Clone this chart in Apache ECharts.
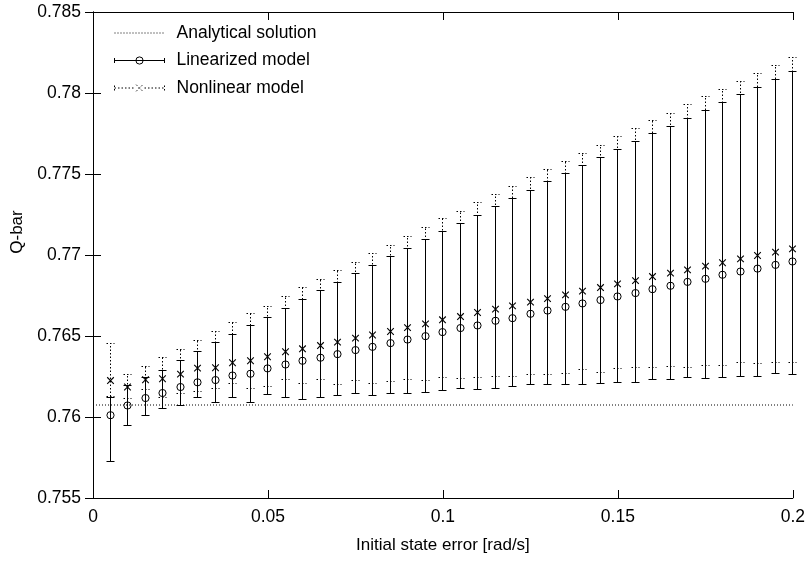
<!DOCTYPE html>
<html>
<head>
<meta charset="utf-8">
<script src="https://cdn.jsdelivr.net/npm/echarts@6/dist/echarts.min.js"></script>
<style>
html,body{margin:0;padding:0;background:#fff;}
#chart{width:808px;height:561px;}
</style>
</head>
<body>
<div id="chart"></div>
<script>
// ---- data ----
const xVals = [0.005,0.01,0.015,0.02,0.025,0.03,0.035,0.04,0.045,0.05,
  0.055,0.06,0.065,0.07,0.075,0.08,0.085,0.09,0.095,0.1,
  0.105,0.11,0.115,0.12,0.125,0.13,0.135,0.14,0.145,0.15,
  0.155,0.16,0.165,0.17,0.175,0.18,0.185,0.19,0.195,0.2];
const linLow = [0.75726,0.75946,0.76008,0.76053,0.76074,0.76119,0.76088,0.76123,0.7609,0.76137,
  0.76121,0.76111,0.76119,0.76131,0.76145,0.76133,0.76148,0.76145,0.76154,0.76166,
  0.76176,0.76168,0.76176,0.76187,0.76199,0.76203,0.76203,0.76199,0.76207,0.76213,
  0.76216,0.76232,0.76232,0.76246,0.7624,0.76242,0.76253,0.7625,0.76271,0.76261];
const linMean = [0.76011,0.76071,0.76117,0.76148,0.76185,0.76214,0.76228,0.76256,0.76267,0.763,
  0.76324,0.76347,0.76366,0.76388,0.76413,0.76433,0.76456,0.76478,0.76499,0.76524,
  0.76549,0.76565,0.76594,0.7661,0.76637,0.76657,0.7668,0.76701,0.76722,0.76744,
  0.76765,0.76789,0.7681,0.76834,0.76853,0.76878,0.76898,0.76916,0.76939,0.7696];
const linHigh = [0.76121,0.76193,0.76244,0.76287,0.76349,0.76404,0.76458,0.76507,0.76565,0.76617,
  0.7667,0.76728,0.76781,0.7683,0.76884,0.76935,0.76989,0.7704,0.77093,0.77145,
  0.77196,0.77246,0.77297,0.77348,0.774,0.77451,0.77501,0.7755,0.77599,0.77649,
  0.77698,0.77747,0.77792,0.77844,0.77894,0.7794,0.77988,0.78036,0.78085,0.78132];
const nonLow = [0.76127,0.76117,0.76168,0.7612,0.76148,0.76158,0.76179,0.76209,0.76179,0.76189,
  0.7623,0.76205,0.7623,0.76203,0.76228,0.76209,0.76219,0.76234,0.76228,0.76246,
  0.76238,0.76242,0.76253,0.76253,0.76261,0.76263,0.76271,0.76292,0.76277,0.76298,
  0.76306,0.76308,0.7631,0.76304,0.76316,0.76318,0.76335,0.76329,0.76335,0.76337];
const nonMean = [0.76225,0.76185,0.7623,0.76236,0.76265,0.76302,0.76304,0.76335,0.76347,0.76372,
  0.76403,0.76421,0.76441,0.76462,0.76487,0.76506,0.76528,0.76552,0.76575,0.766,
  0.7662,0.76645,0.76666,0.76686,0.76709,0.76731,0.76754,0.76777,0.76799,0.76822,
  0.76842,0.76867,0.76888,0.76908,0.76931,0.76952,0.76976,0.76997,0.77018,0.77038];
const nonHigh = [0.76456,0.76261,0.76312,0.76367,0.76417,0.76475,0.7653,0.76581,0.76637,0.76684,
  0.76746,0.76797,0.76849,0.76904,0.76956,0.77009,0.77061,0.77114,0.77168,0.77223,
  0.7727,0.77322,0.77373,0.77425,0.77476,0.77527,0.77577,0.77626,0.77678,0.77731,
  0.7778,0.77828,0.77875,0.77926,0.77976,0.78023,0.78074,0.78122,0.78171,0.78218];
const analyticalValue = 0.76074;
const xTicks = [0, 0.05, 0.1, 0.15, 0.2];
const yTicks = [0.755, 0.76, 0.765, 0.77, 0.775, 0.78, 0.785];
const seriesNames = ['Analytical solution', 'Linearized model', 'Nonlinear model'];

// ---- build ----
const linData = xVals.map((x, i) => [x, linLow[i], linMean[i], linHigh[i]]);
const nonData = xVals.map((x, i) => [x, nonLow[i], nonMean[i], nonHigh[i]]);
const anaData = [[xTicks[0], analyticalValue], [xTicks[xTicks.length - 1], analyticalValue]];

const FONT = '"Liberation Sans", Arial, Helvetica, sans-serif';
const CAP = 4;

function snap(v) { return Math.round(v - 0.5) + 0.5; }

function makeRender(dotted, marker) {
  return function (params, api) {
    const x = api.value(0);
    const pLo = api.coord([x, api.value(1)]);
    const pM = api.coord([x, api.value(2)]);
    const pHi = api.coord([x, api.value(3)]);
    const cx = snap(pM[0]);
    const yl = snap(pLo[1]), yh = snap(pHi[1]);
    const st = { stroke: '#000', lineWidth: 1, fill: null, lineDash: dotted ? [1.5, 2] : null };
    const children = [
      { type: 'line', shape: { x1: cx, y1: yl, x2: cx, y2: yh }, style: st },
      { type: 'line', shape: { x1: cx - CAP, y1: yl, x2: cx + CAP, y2: yl }, style: st },
      { type: 'line', shape: { x1: cx - CAP, y1: yh, x2: cx + CAP, y2: yh }, style: st }
    ];
    const my = pM[1];
    if (marker === 'circle') {
      children.push({ type: 'circle', shape: { cx: cx, cy: my, r: 3.6 },
        style: { stroke: '#000', lineWidth: 1, fill: 'none' } });
    } else {
      const s = 3.3;
      children.push({ type: 'line', shape: { x1: cx - s, y1: my - s, x2: cx + s, y2: my + s },
        style: { stroke: '#000', lineWidth: 1.1 } });
      children.push({ type: 'line', shape: { x1: cx - s, y1: my + s, x2: cx + s, y2: my - s },
        style: { stroke: '#000', lineWidth: 1.1 } });
    }
    return { type: 'group', children: children };
  };
}

const axisCommon = {
  type: 'value',
  axisLine: { show: true, lineStyle: { color: '#000', width: 1 } },
  axisTick: { show: true, inside: true, length: 8, lineStyle: { color: '#000' } },
  splitLine: { show: false }
};

const option = {
  animation: false,
  backgroundColor: '#fff',
  textStyle: { fontFamily: FONT },
  grid: { left: 93, right: 15, top: 12, bottom: 63, containLabel: false },
  legend: {
    orient: 'vertical',
    left: 114,
    top: 24,
    itemWidth: 50,
    itemHeight: 10,
    itemGap: 9.5,
    padding: 0,
    selectedMode: false,
    textStyle: { fontFamily: FONT, fontSize: 17.5, color: '#000', padding: [0, 0, 0, 7] },
    data: [
      { name: seriesNames[0], icon: 'path://M0,0 L0,0 M0,10 L0,10 M0,5 L50,5',
        itemStyle: { color: 'rgba(0,0,0,0)', borderColor: '#000', borderWidth: 1, borderType: [1, 2] } },
      { name: seriesNames[1], icon: 'path://M0,0 L0,0 M0,10 L0,10 M0,2.5 L0,7.5 M50,2.5 L50,7.5 M0,5 L50,5 M21.4,5 A3.6,3.6 0 1 1 28.6,5 A3.6,3.6 0 1 1 21.4,5',
        itemStyle: { color: 'rgba(0,0,0,0)', borderColor: '#000', borderWidth: 1 } },
      { name: seriesNames[2], icon: 'path://M0,0 L0,0 M0,10 L0,10 M0,2.5 L0,7.5 M50,2.5 L50,7.5 M0,5 L20,5 M30,5 L50,5 M21.7,1.7 L28.3,8.3 M21.7,8.3 L28.3,1.7',
        itemStyle: { color: 'rgba(0,0,0,0)', borderColor: '#000', borderWidth: 1, borderType: [1.5, 2] } }
    ]
  },
  xAxis: [
    Object.assign({}, axisCommon, {
      position: 'bottom',
      min: xTicks[0], max: xTicks[xTicks.length - 1], interval: 0.05,
      name: 'Initial state error [rad/s]',
      nameLocation: 'middle',
      nameGap: 39,
      nameTextStyle: { fontFamily: FONT, fontSize: 17, color: '#000' },
      axisLabel: { margin: 10, fontFamily: FONT, fontSize: 17.5, color: '#000' }
    }),
    Object.assign({}, axisCommon, {
      position: 'top',
      min: xTicks[0], max: xTicks[xTicks.length - 1], interval: 0.05,
      axisLabel: { show: false }
    })
  ],
  yAxis: [
    Object.assign({}, axisCommon, {
      position: 'left',
      min: yTicks[0], max: yTicks[yTicks.length - 1], interval: 0.005,
      name: 'Q-bar',
      nameLocation: 'middle',
      nameGap: 66,
      nameTextStyle: { fontFamily: FONT, fontSize: 17, color: '#000', padding: [0, 0, 0, 46] },
      axisLabel: { margin: 12, fontFamily: FONT, fontSize: 17.5, color: '#000' }
    }),
    Object.assign({}, axisCommon, {
      position: 'right',
      min: yTicks[0], max: yTicks[yTicks.length - 1], interval: 0.005,
      axisLabel: { show: false }
    })
  ],
  series: [
    {
      name: seriesNames[0],
      type: 'line',
      data: anaData,
      symbol: 'none',
      silent: true,
      lineStyle: { color: '#000', width: 1, type: [1, 2] },
      itemStyle: { color: '#000' }
    },
    {
      name: seriesNames[1],
      type: 'custom',
      data: linData,
      renderItem: makeRender(false, 'circle'),
      itemStyle: { color: '#000' },
      encode: { x: 0, y: [1, 2, 3] }
    },
    {
      name: seriesNames[2],
      type: 'custom',
      data: nonData,
      renderItem: makeRender(true, 'cross'),
      itemStyle: { color: '#000' },
      encode: { x: 0, y: [1, 2, 3] }
    }
  ]
};

const chart = echarts.init(document.getElementById('chart'), null, { renderer: 'canvas' });
chart.setOption(option);
</script>
</body>
</html>
